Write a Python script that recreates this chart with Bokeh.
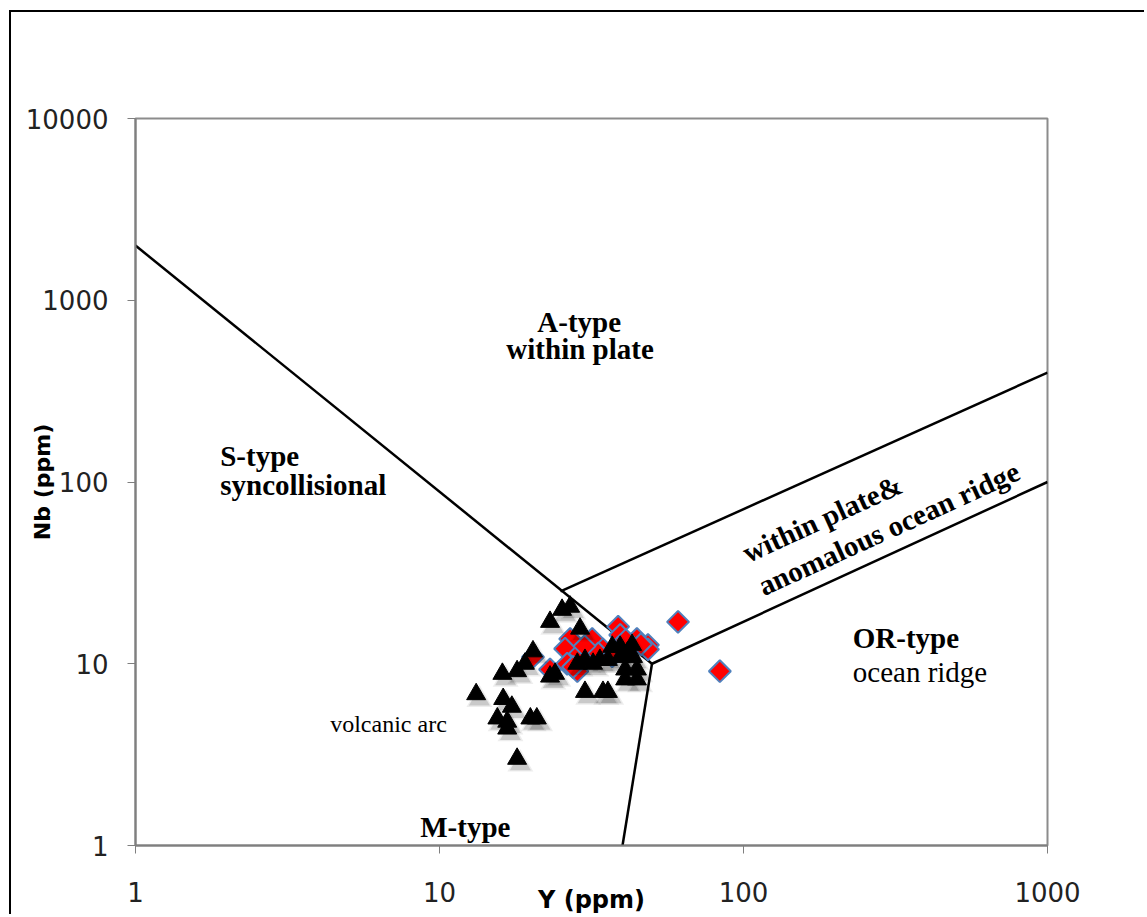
from bokeh.plotting import figure
from bokeh.models import Range1d, FixedTicker, NumeralTickFormatter, Label
from bokeh.embed import file_html
from bokeh.resources import INLINE
import math

# ---- data: Y (ppm) and Nb (ppm) ----
tri_y = [25.3, 26.9, 23.1, 29.0, 20.3, 19.1, 18.0, 16.1, 23.1, 24.0, 13.2, 16.2,
         17.3, 15.5, 16.7, 16.7, 19.9, 20.9, 18.0, 28.4, 30.1, 32.0, 33.7, 35.8,
         39.3, 43.0, 39.3, 43.3, 40.8, 44.6, 40.8, 44.6, 30.1, 34.5, 35.8, 37.0, 41.5]
tri_nb = [19.8, 20.6, 17.0, 15.6, 11.7, 10.0, 9.1, 8.8, 8.5, 8.8, 6.8, 6.4,
          5.8, 5.0, 4.8, 4.4, 5.0, 5.0, 3.0, 10.0, 10.5, 10.0, 10.5, 10.5,
          12.4, 12.7, 10.9, 10.9, 9.3, 9.3, 8.2, 8.2, 7.0, 7.0, 7.0, 12.4, 11.5]

dia_y = [60.9, 83.6, 38.7, 26.9, 31.8, 39.3, 44.6, 48.5, 48.5, 25.9, 29.0,
         34.5, 26.3, 23.1, 20.3, 28.4, 41.0, 46.0, 33.3, 37.0, 30.0, 27.5]
dia_nb = [17.0, 9.1, 16.0, 13.7, 13.7, 14.4, 13.7, 12.7, 12.0, 12.1, 11.4,
          12.0, 10.0, 9.3, 10.9, 9.1, 13.5, 12.8, 11.4, 11.0, 12.5, 9.6]

# field boundaries (Pearce et al. 1984)
syn_x = [1, 50]
syn_y = [2000, 10]
wpg_x = [25, 1000]
wpg_y = [25, 400]
org_x = [50, 1000]
org_y = [10, 100]
vag_x = [40, 50]
vag_y = [1, 10]

x_ticks = [1, 10, 100, 1000]
y_ticks = [1, 10, 100, 1000, 10000]

p = figure(width=1135, height=904, x_axis_type="log", y_axis_type="log",
           x_range=Range1d(1, 1000), y_range=Range1d(1, 10000),
           output_backend="svg", toolbar_location=None,
           min_border_left=124, min_border_top=106, min_border_right=99,
           min_border_bottom=66)
p.styles = {"margin-left": "9px", "margin-top": "10px",
            "border-left": "2px solid #000", "border-top": "2px solid #000"}

p.grid.visible = False
p.outline_line_color = "#8c8c8c"
p.outline_line_width = 2
p.background_fill_color = "white"
p.border_fill_color = "white"

for ax, ticks in ((p.xaxis, x_ticks), (p.yaxis, y_ticks)):
    ax.ticker = FixedTicker(ticks=ticks, minor_ticks=[])
    ax.formatter = NumeralTickFormatter(format="0")
    ax.axis_line_color = "#7f7f7f"
    ax.axis_line_width = 2
    ax.major_tick_line_color = "#7f7f7f"
    ax.major_tick_line_width = 1
    ax.major_tick_out = 8
    ax.major_tick_in = 0
    ax.minor_tick_line_color = None
    ax.major_label_text_font = "DejaVu Sans"
    ax.major_label_text_font_size = "26px"
    ax.major_label_text_color = "#222222"
    ax.axis_label_text_font = "DejaVu Sans"
    ax.axis_label_text_font_style = "bold"
    ax.axis_label_text_color = "black"

p.xaxis.axis_label = "Y (ppm)"
p.xaxis.axis_label_text_font_size = "24px"
p.xaxis.major_label_standoff = 28
p.xaxis.axis_label_standoff = -19
p.yaxis.axis_label = "Nb (ppm)"
p.yaxis.axis_label_text_font_size = "22px"
p.yaxis.major_label_standoff = 19
p.yaxis.axis_label_standoff = -32

# boundaries
for bx, by in ((syn_x, syn_y), (wpg_x, wpg_y), (org_x, org_y), (vag_x, vag_y)):
    p.line(bx, by, line_color="black", line_width=2.5)

# red diamonds
p.scatter(dia_y, dia_nb, marker="square", angle=math.pi / 4, size=15.5,
          fill_color="#ff0000", line_color="#4f81bd", line_width=2)

# triangle shadows (offset a few pixels down-right)
sh_x = [v * 1.025 for v in tri_y]
sh_y = [v * 0.935 for v in tri_nb]
p.scatter(sh_x, sh_y, marker="triangle", size=26, fill_color="#000000",
          fill_alpha=0.07, line_color=None)
p.scatter(sh_x, sh_y, marker="triangle", size=21, fill_color="#000000",
          fill_alpha=0.15, line_color=None)

# black triangles
p.scatter(tri_y, tri_nb, marker="triangle", size=19, fill_color="black",
          line_color="black")

serif = "Liberation Serif"
labels = [
    ("A-type", 28.8, 763, "center", "bold", "29px"),
    ("within plate", 29.0, 536, "center", "bold", "29px"),
    ("S-type", 1.90, 139.5, "left", "bold", "29px"),
    ("syncollisional", 1.90, 96.8, "left", "bold", "29px"),
    ("volcanic arc", 4.37, 4.65, "left", "normal", "24px"),
    ("M-type", 8.64, 1.27, "left", "bold", "29px"),
    ("OR-type", 228.8, 13.9, "left", "bold", "29px"),
    ("ocean ridge", 228.8, 9.06, "left", "normal", "29px"),
]
for txt, lx, ly, al, st, fs in labels:
    p.add_layout(Label(x=lx, y=ly, text=txt, text_align=al, text_baseline="alphabetic",
                       text_font=serif, text_font_style=st, text_font_size=fs,
                       text_color="black"))

rot = math.radians(24.5)
p.add_layout(Label(x=181.6, y=63.0, text="within plate&", text_align="center",
                   text_baseline="middle", text_font=serif, text_font_style="bold",
                   text_font_size="29px", text_color="black", angle=rot))
p.add_layout(Label(x=300.5, y=55.5, text="anomalous ocean ridge", text_align="center",
                   text_baseline="middle", text_font=serif, text_font_style="bold",
                   text_font_size="29px", text_color="black", angle=rot))

open("out.html", "w").write(file_html(p, INLINE))
